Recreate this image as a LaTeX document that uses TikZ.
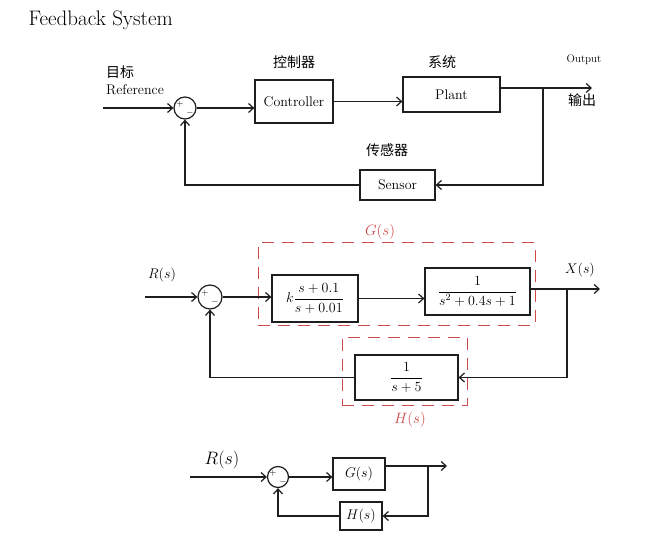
\RequirePackage{fix-cm}
\documentclass[tikz,border=0pt]{standalone}
\usepackage{fontspec}
\usepackage{amsmath}
\newfontfamily\cjk{Noto Sans CJK SC}
\usetikzlibrary{arrows.meta}
\definecolor{penred}{RGB}{205,75,75}
\definecolor{pen}{RGB}{30,30,30}
\begin{document}
\begin{tikzpicture}[x=1pt,y=-1pt,line width=1.2pt,draw=pen,
  blk/.style={draw=pen,inner sep=2pt,font=\fontsize{14}{16}\selectfont},
  sumnode/.style={circle,draw=pen,inner sep=0pt},
  arr/.style={draw=pen,-{Straight Barb[length=5pt,width=9pt]}},
  sgn/.style={font=\fontsize{9}{9}\selectfont,inner sep=0pt},
  lbl/.style={font=\fontsize{14}{16}\selectfont,inner sep=0pt},
  cjklbl/.style={font=\cjk\fontsize{14}{16}\selectfont,inner sep=0pt},
  gdash/.style={draw=penred,line width=1pt,dash pattern=on 12pt off 8pt},
  redlbl/.style={text=penred,font=\fontsize{15}{17}\selectfont,inner sep=0pt}]
\useasboundingbox (0,0) rectangle (664,548);
\fill[white] (0,0) rectangle (664,548);

% title
\node[anchor=north west,inner sep=0pt,font=\fontsize{21}{24}\selectfont] (title) at (28,10) {Feedback System};

% ---------- top diagram ----------
\node[sumnode,minimum size=22pt] (s1) at (185,108) {};
\node[sgn] (s1p) at (180,104) {$+$};
\node[sgn] (s1m) at (190,113) {$-$};
\node[blk,minimum width=78pt,minimum height=43pt] (ctrl) at (294,101.5) {Controller};
\node[blk,minimum width=97pt,minimum height=35pt] (plant) at (451.5,94.5) {Plant};
\node[blk,minimum width=75pt,minimum height=30pt] (sensor) at (397.5,185) {Sensor};
\coordinate (in1) at (103,108);
\coordinate (out1) at (592,88);
\coordinate (br1) at (543,88);
\draw[arr] (in1) -- (s1.west);
\draw[arr] (s1.east) -- (s1.east -| ctrl.west);
\draw[arr] (ctrl.east) -- (ctrl.east -| plant.west);
\draw[arr] (plant.east |- out1) -- (out1);
\draw[arr] (br1) |- (sensor.east);
\draw[arr] (sensor.west) -| (s1.south);
\node[cjklbl] (l1) at (120,72) {目标};
\node[lbl] (l2) at (135,90) {Reference};
\node[cjklbl] (l3) at (294,62) {控制器};
\node[cjklbl] (l4) at (442,62) {系统};
\node[lbl,font=\fontsize{11}{12}\selectfont] (l5) at (584,60) {Output};
\node[cjklbl] (l6) at (582,100) {输出};
\node[cjklbl] (l7) at (387,150) {传感器};

% ---------- middle diagram ----------
\node[gdash,minimum width=277pt,minimum height=82pt] (G) at (396.5,284) {};
\node[gdash,minimum width=125pt,minimum height=68pt] (H) at (404.5,371) {};
\node[redlbl] (Gl) at (380,232) {$G(s)$};
\node[redlbl] (Hl) at (410,420) {$H(s)$};
\node[sumnode,minimum size=24pt] (s2) at (210,297) {};
\node[sgn] (s2p) at (205,293) {$+$};
\node[sgn] (s2m) at (215,302) {$-$};
\node[blk,minimum width=86pt,minimum height=47pt] (b1) at (315,298.5) {$k\dfrac{s+0.1}{s+0.01}$};
\node[blk,minimum width=105pt,minimum height=47pt] (b2) at (477.5,291.5) {$\dfrac{1}{s^2+0.4s+1}$};
\node[blk,minimum width=103pt,minimum height=45pt] (b3) at (406.5,377.5) {$\dfrac{1}{s+5}$};
\coordinate (in2) at (145,297);
\coordinate (out2) at (600,289);
\coordinate (br2) at (567,289);
\draw[arr] (in2) -- (s2.west);
\draw[arr] (s2.east) -- (s2.east -| b1.west);
\draw[arr] (b1.east) -- (b1.east -| b2.west);
\draw[arr] (b2.east |- out2) -- (out2);
\draw[arr] (br2) |- (b3.east);
\draw[arr] (b3.west) -| (s2.south);
\node[lbl] (Rl2) at (162,275) {$R(s)$};
\node[lbl] (Xl2) at (580,270) {$X(s)$};

% ---------- bottom diagram ----------
\node[sumnode,minimum size=21pt] (s3) at (278,477) {};
\node[sgn] (s3p) at (273,473) {$+$};
\node[sgn] (s3m) at (283,482) {$-$};
\node[blk,minimum width=52pt,minimum height=32pt,font=\fontsize{14}{16}\selectfont] (Gb) at (359,474) {$G(s)$};
\node[blk,minimum width=42pt,minimum height=28pt,font=\fontsize{14}{16}\selectfont] (Hb) at (361,516) {$H(s)$};
\coordinate (in3) at (190,477);
\coordinate (out3) at (447,466);
\coordinate (br3) at (428,466);
\draw[arr] (in3) -- (s3.west);
\draw[arr] (s3.east) -- (s3.east -| Gb.west);
\draw[arr] (Gb.east |- out3) -- (out3);
\draw[arr] (br3) |- (Hb.east);
\draw[arr] (Hb.west) -| (s3.south);
\node[lbl,font=\fontsize{18}{20}\selectfont] (Rl3) at (222,460) {$R(s)$};
\end{tikzpicture}
\end{document}
